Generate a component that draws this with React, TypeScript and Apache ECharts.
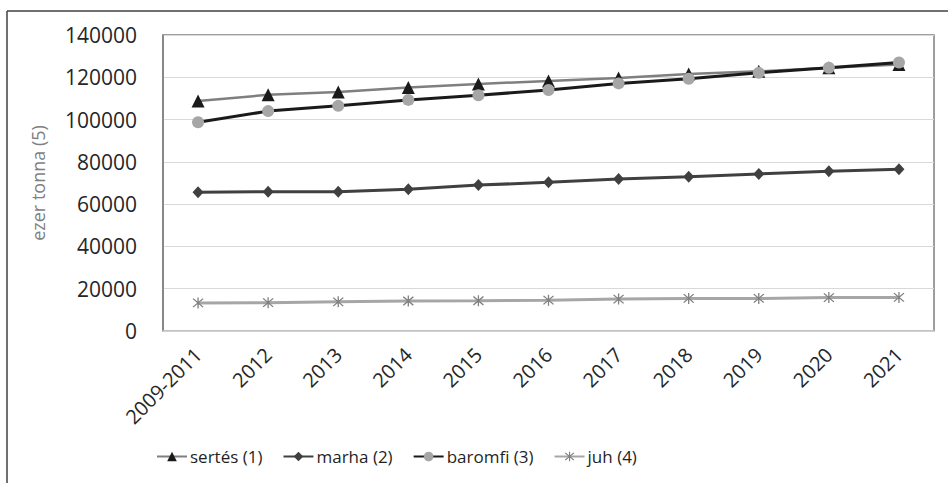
import React, { useEffect, useRef } from "react";
import * as echarts from "echarts";

const categories = ["2009-2011", "2012", "2013", "2014", "2015", "2016", "2017", "2018", "2019", "2020", "2021"];
const sertes = [108800, 111700, 113000, 115200, 116800, 118300, 119700, 121600, 122800, 124500, 126000];
const marha = [65600, 65900, 65900, 67100, 69000, 70300, 71900, 73000, 74300, 75600, 76500];
const baromfi = [98700, 104000, 106500, 109300, 111500, 114000, 117100, 119300, 122100, 124500, 127000];
const juh = [13300, 13400, 13800, 14200, 14300, 14600, 15100, 15400, 15400, 15800, 15900];
const seriesNames = ["sertés (1)", "marha (2)", "baromfi (3)", "juh (4)"];
const yAxisTitle = "ezer tonna (5)";

const FONT = "'Open Sans', 'Noto Sans', sans-serif";
const ASTERISK =
  "path://M9,0 L11,0 L11,20 L9,20 Z M1.5,3 L3,1.5 L18.5,17 L17,18.5 Z M17,1.5 L18.5,3 L3,18.5 L1.5,17 Z";

export default function App() {
  const ref = useRef<HTMLDivElement>(null);
  useEffect(() => {
    if (!ref.current) return;
    const chart = echarts.init(ref.current, null, { renderer: "svg" });
    chart.setOption({
      animation: false,
      backgroundColor: "#ffffff",
      textStyle: { fontFamily: FONT },
      grid: {
        left: 163,
        right: 14,
        top: 35,
        bottom: 152,
        show: true,
        borderColor: "#7f7f7f",
        borderWidth: 1.5,
        backgroundColor: "transparent",
      },
      legend: {
        left: 151,
        top: 443,
        itemWidth: 30,
        itemHeight: 12,
        itemGap: 20,
        textStyle: { fontFamily: FONT, fontSize: 17, color: "#1f1f1f", padding: [0, 0, 0, -2] },
        data: seriesNames,
      },
      xAxis: {
        type: "category",
        data: categories,
        boundaryGap: true,
        axisLine: { show: true, lineStyle: { color: "#cfcfcf", width: 1.5 } },
        axisTick: { show: false },
        axisLabel: {
          interval: 0,
          rotate: 45,
          margin: 20,
          fontFamily: FONT,
          fontSize: 20,
          color: "#262626",
        },
        splitLine: { show: false },
      },
      yAxis: {
        type: "value",
        min: 0,
        max: 140000,
        interval: 20000,
        axisLine: { show: true, lineStyle: { color: "#7f7f7f", width: 1.5 } },
        axisTick: { show: false },
        axisLabel: {
          margin: 26,
          fontFamily: FONT,
          fontSize: 21,
          color: "#262626",
          formatter: (v: number) => String(v),
        },
        splitLine: { show: true, lineStyle: { color: "#d9d9d9", width: 1 } },
      },
      graphic: [
        {
          type: "line",
          shape: { x1: 7, y1: 11, x2: 7, y2: 483 },
          style: { stroke: "#404040", lineWidth: 1.5 },
        },
        {
          type: "line",
          shape: { x1: 7, y1: 11, x2: 948, y2: 11 },
          style: { stroke: "#404040", lineWidth: 1.5 },
        },
        {
          type: "text",
          x: 38,
          y: 183,
          rotation: Math.PI / 2,
          style: {
            text: yAxisTitle,
            fontFamily: FONT,
            fontSize: 18,
            fill: "#7f7f7f",
            align: "center",
            verticalAlign: "middle",
          },
        },
      ],
      series: [
        {
          name: seriesNames[0],
          type: "line",
          data: sertes,
          symbol: "triangle",
          symbolSize: 13,
          lineStyle: { color: "#7f7f7f", width: 2.5 },
          itemStyle: { color: "#1a1a1a" },
        },
        {
          name: seriesNames[1],
          type: "line",
          data: marha,
          symbol: "diamond",
          symbolSize: [11, 12],
          lineStyle: { color: "#404040", width: 3 },
          itemStyle: { color: "#404040" },
        },
        {
          name: seriesNames[2],
          type: "line",
          data: baromfi,
          symbol: "circle",
          symbolSize: 12,
          lineStyle: { color: "#1a1a1a", width: 3 },
          itemStyle: { color: "#a6a6a6" },
        },
        {
          name: seriesNames[3],
          type: "line",
          data: juh,
          symbol: ASTERISK,
          symbolSize: 11,
          lineStyle: { color: "#a6a6a6", width: 3 },
          itemStyle: { color: "#808080" },
        },
      ],
    });
    return () => chart.dispose();
  }, []);
  return (
    <div
      ref={ref}
      style={{ position: "fixed", left: 0, top: 0, width: 948, height: 483, background: "#fff" }}
    />
  );
}
